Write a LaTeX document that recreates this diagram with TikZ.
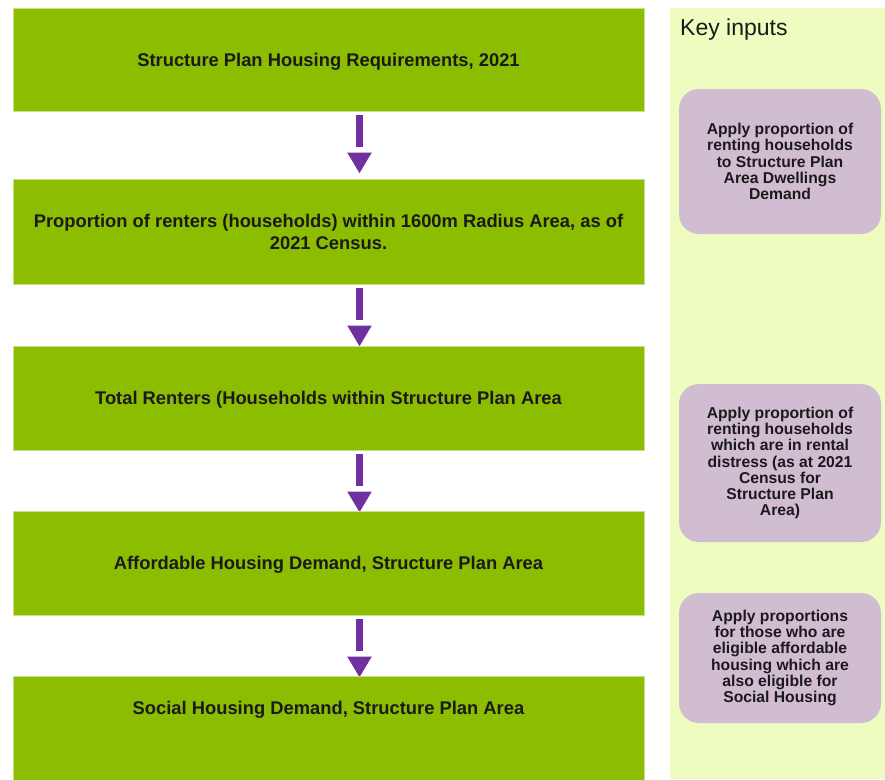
\documentclass[tikz,border=0pt]{standalone}
\usepackage{fontspec}
\setmainfont{Liberation Sans}
\usetikzlibrary{arrows.meta,positioning,calc,backgrounds}
\definecolor{boxgreen}{RGB}{140,189,0}
\definecolor{boxedge}{RGB}{196,226,140}
\definecolor{panelbg}{RGB}{238,252,192}
\definecolor{inputpink}{RGB}{209,189,210}
\definecolor{arrowpurple}{RGB}{112,48,160}
\definecolor{inktext}{RGB}{26,26,26}
\begin{document}
\begin{tikzpicture}[x=1pt,y=-1pt,
  g/.style={draw=boxedge,line width=1pt,fill=boxgreen,minimum width=631pt,inner sep=0pt,align=center,text depth=0pt,text=inktext,font=\bfseries\fontsize{18.35}{22}\selectfont},
  gt/.style={inner sep=0pt,align=center,text depth=0pt,text=inktext,font=\bfseries\fontsize{18.35}{22}\selectfont},
  k/.style={fill=inputpink,rounded corners=20pt,minimum width=202pt,inner sep=0pt,align=center,text=inktext,font=\bfseries\fontsize{15.7}{16.2}\selectfont},
  arr/.style={arrowpurple,line width=7pt,dash pattern=on 32pt off 60pt,shorten <=3pt,-{Triangle[width=23pt,length=21pt]}}]
\useasboundingbox (0,0) rectangle (885,779);
\fill[panelbg] (670,8) rectangle (885,779);
\node[g,minimum height=103pt] (a) at (328.5,59.5) {Structure Plan Housing Requirements, 2021};
\node[g,minimum height=105pt] (b) at (328.5,231.5) {Proportion of renters (households) within 1600m Radius Area, as of\\2021 Census.};
\node[g,minimum height=104pt] (c) at (328.5,398) {Total Renters (Households within Structure Plan Area};
\node[g,minimum height=104pt] (d) at (328.5,563) {Affordable Housing Demand, Structure Plan Area};
\node[g,minimum height=110pt] (e) at (328.5,731) {};
\node[gt] (etxt) at (328.5,708) {Social Housing Demand, Structure Plan Area};
\coordinate (ax) at (359.5,0);
\begin{scope}[on background layer]
\foreach \u/\v/\s in {a/b/5pt,b/c/-1pt,c/d/-2pt,d/e/-2pt} \draw[arr,shorten >=\s] (\u.south -| ax) -- (\v.north -| ax);
\end{scope}
% key inputs column
\node[anchor=west,inner sep=0pt,text=inktext,font=\fontsize{23}{27}\selectfont] (keyhead) at (680,30) {Key inputs};
\node[k,minimum height=145pt] (k1) at (780,161.5) {Apply proportion of\\renting households\\to Structure Plan\\Area Dwellings\\Demand};
\node[k,minimum height=158pt] (k2) at (780,463) {Apply proportion of\\renting households\\which are in rental\\distress (as at 2021\\Census for\\Structure Plan\\Area)};
\node[k,minimum height=130pt] (k3) at (780,658) {Apply proportions\\for those who are\\eligible affordable\\housing which are\\also eligible for\\Social Housing};
\end{tikzpicture}
\end{document}
